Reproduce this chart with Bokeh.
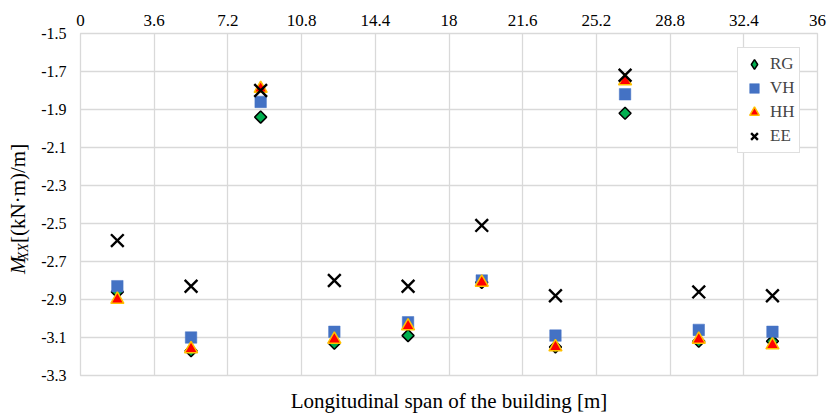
from bokeh.plotting import figure
from bokeh.layouts import row, column
from bokeh.models import FixedTicker, Range1d, Legend, LegendItem
from bokeh.core.properties import value
from bokeh.embed import file_html
from bokeh.resources import INLINE
import math

# ---- data ----
span_x = [1.8, 5.4, 8.8, 12.4, 16.0, 19.6, 23.2, 26.6, 30.2, 33.8]
rg = [-2.86, -3.17, -1.94, -3.13, -3.09, -2.81, -3.15, -1.92, -3.12, -3.12]
vh = [-2.83, -3.10, -1.86, -3.07, -3.02, -2.80, -3.09, -1.82, -3.06, -3.07]
hh = [-2.90, -3.16, -1.79, -3.11, -3.04, -2.81, -3.15, -1.75, -3.11, -3.14]
ee = [-2.59, -2.83, -1.80, -2.80, -2.83, -2.51, -2.88, -1.72, -2.86, -2.88]

x_ticks = [0, 3.6, 7.2, 10.8, 14.4, 18, 21.6, 25.2, 28.8, 32.4, 36]
x_tick_labels = ["0", "3.6", "7.2", "10.8", "14.4", "18", "21.6", "25.2", "28.8", "32.4", "36"]
y_ticks = [-3.3, -3.1, -2.9, -2.7, -2.5, -2.3, -2.1, -1.9, -1.7, -1.5]
y_tick_labels = ["-3.3", "-3.1", "-2.9", "-2.7", "-2.5", "-2.3", "-2.1", "-1.9", "-1.7", "-1.5"]

series_names = ["RG", "VH", "HH", "EE"]
x_title = "Longitudinal span of the building [m]"
y_title_parts = ["M", "XX", "[(kN\u00b7m)/m]"]

FONT = "Liberation Serif"
AXFONT = "'Liberation Serif', 'Times New Roman', serif"
GRID = "#d9d9d9"
W, H = 827, 413
YT_W = 36          # left strip holding the y title
TOP_H = 385        # height of the chart row (frame bottom at 375)
XT_H = H - TOP_H   # bottom strip holding the x title

# ---------- main chart ----------
p = figure(width=W - YT_W, height=TOP_H, output_backend="svg", toolbar_location=None,
           x_axis_location="above",
           x_range=Range1d(0, 36), y_range=Range1d(-3.3, -1.5),
           min_border_left=80 - YT_W, min_border_right=10, min_border_top=33,
           min_border_bottom=TOP_H - 375)

p.outline_line_color = GRID
p.outline_line_width = 1.3
p.background_fill_color = "white"
p.border_fill_color = "white"

for ax in (p.xaxis[0], p.yaxis[0]):
    ax.axis_line_color = None
    ax.major_tick_line_color = None
    ax.minor_tick_line_color = None
    ax.major_tick_out = 0
    ax.major_tick_in = 0
    ax.major_label_text_font = AXFONT
    ax.major_label_text_color = "#000000"

p.xaxis[0].ticker = FixedTicker(ticks=x_ticks)
p.xaxis[0].major_label_overrides = dict(zip(x_ticks, x_tick_labels))
p.xaxis[0].major_label_standoff = 8
p.xaxis[0].major_label_text_font_size = "17px"
p.yaxis[0].ticker = FixedTicker(ticks=y_ticks)
p.yaxis[0].major_label_overrides = dict(zip(y_ticks, y_tick_labels))
p.yaxis[0].major_label_standoff = 14
p.yaxis[0].major_label_text_font_size = "16px"

p.xgrid[0].ticker = FixedTicker(ticks=x_ticks)
p.ygrid[0].ticker = FixedTicker(ticks=y_ticks)
for g in (p.xgrid[0], p.ygrid[0]):
    g.grid_line_color = GRID
    g.grid_line_width = 1.3

r_rg = p.scatter(span_x, rg, marker="square", size=8.5, angle=math.pi / 4,
                 fill_color="#00B050", line_color="black", line_width=1.5)
r_vh = p.scatter(span_x, vh, marker="square", size=11.5,
                 fill_color="#4472C4", line_color="#4472C4", line_width=0.5)
r_hh = p.scatter(span_x, hh, marker="triangle", size=13,
                 fill_color="#FF0000", line_color="#FFC000", line_width=1.5)
r_ee = p.scatter(span_x, ee, marker="x", size=18,
                 line_color="black", line_width=2.4)

# legend-only renderer for the diamond symbol (rotation is not kept in legends);
# size 0 keeps it invisible on the chart, the legend sizes its glyph itself
r_rg_leg = p.scatter(span_x, rg, marker="diamond", size=0,
                     fill_color="#00B050", line_color="black", line_width=1.5)

legend = Legend(items=[LegendItem(label=n, renderers=[r])
                       for n, r in zip(series_names, [r_rg_leg, r_vh, r_hh, r_ee])],
                location=(657, 222))
legend.label_text_font = FONT
legend.label_text_font_size = "17px"
legend.border_line_color = "#bfbfbf"
legend.border_line_width = 1
legend.background_fill_alpha = 1.0
legend.padding = 4
legend.spacing = 0
legend.glyph_width = 24
legend.glyph_height = 24
legend.label_standoff = 4
legend.label_height = 24
legend.margin = 0
p.add_layout(legend, "center")


def strip(width, height):
    f = figure(width=width, height=height, output_backend="svg", toolbar_location=None,
               x_range=Range1d(0, width), y_range=Range1d(0, height),
               x_axis_location=None, y_axis_location=None,
               min_border_left=0, min_border_right=0, min_border_top=0, min_border_bottom=0)
    f.grid.visible = False
    f.outline_line_color = None
    f.background_fill_color = "white"
    f.border_fill_color = "white"
    return f


# ---------- y title strip (pixel coordinates, y up from strip bottom) ----------
yt = strip(YT_W, TOP_H)
yt.text(x=[17], y=[TOP_H - 261], text=[y_title_parts[0]], angle=math.pi / 2,
        text_font=value(FONT), text_font_size="21px", text_font_style="italic",
        text_align="center", text_baseline="middle", text_color="black")
yt.text(x=[23], y=[TOP_H - 246], text=[y_title_parts[1]], angle=math.pi / 2,
        text_font=value(FONT), text_font_size="14px", text_font_style="italic",
        text_align="center", text_baseline="middle", text_color="black")
yt.text(x=[17], y=[TOP_H - 180], text=[y_title_parts[2]], angle=math.pi / 2,
        text_font=value(FONT), text_font_size="21px", text_font_style="normal",
        text_align="center", text_baseline="middle", text_color="black")

# ---------- x title strip ----------
xt = strip(W, XT_H)
xt.text(x=[(80 + 817) / 2], y=[H - 400], text=[x_title],
        text_font=value(FONT), text_font_size="21px",
        text_align="center", text_baseline="middle", text_color="black")

layout = column(row(yt, p, spacing=0), xt, spacing=0)
open("out.html", "w").write(file_html(layout, INLINE))
